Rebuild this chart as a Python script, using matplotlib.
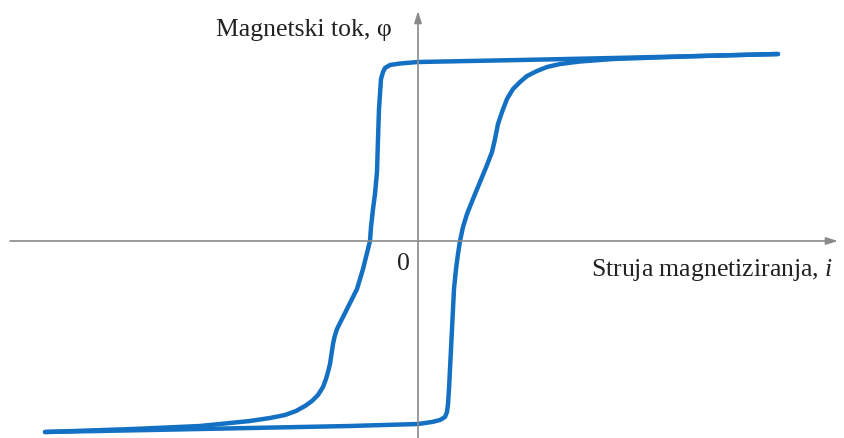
import numpy as np
import matplotlib.pyplot as plt

# Hysteresis loop (x: current i, y: flux phi), arbitrary units
# descending branch: from positive saturation to negative saturation
i_down = [3.60, 2.82, 1.95, 1.02, 0.00, -0.18, -0.28, -0.33, -0.35, -0.37, -0.38,
          -0.39, -0.40, -0.41, -0.43, -0.45, -0.47, -0.48, -0.52, -0.55, -0.61,
          -0.71, -0.76, -0.81, -0.835, -0.85, -0.865, -0.88, -0.90, -0.92, -0.95,
          -1.00, -1.06, -1.13, -1.22, -1.33, -1.48, -1.68, -2.18, -2.85, -3.73]
phi_down = [1.87, 1.85, 1.83, 1.81, 1.79, 1.775, 1.76, 1.73, 1.69, 1.62, 1.47,
            1.32, 1.02, 0.69, 0.47, 0.32, 0.14, 0.00, -0.16, -0.28, -0.48,
            -0.68, -0.78, -0.88, -0.96, -1.03, -1.13, -1.23, -1.31, -1.38, -1.46,
            -1.54, -1.60, -1.65, -1.70, -1.74, -1.77, -1.80, -1.85, -1.88, -1.91]

# ascending branch: from negative saturation back to positive saturation
i_up = [-3.73, -2.68, -1.68, -0.68, 0.00, 0.14, 0.22, 0.27, 0.29, 0.30, 0.31,
        0.32, 0.33, 0.34, 0.35, 0.36, 0.38, 0.40, 0.42, 0.45, 0.49, 0.55, 0.62,
        0.69, 0.74, 0.77, 0.80, 0.84, 0.89, 0.95, 1.02, 1.09, 1.19, 1.29, 1.42,
        1.62, 1.95, 2.82, 3.60]
phi_up = [-1.91, -1.89, -1.87, -1.85, -1.83, -1.81, -1.79, -1.76, -1.71, -1.63,
          -1.48, -1.28, -1.08, -0.88, -0.68, -0.48, -0.28, -0.13, 0.00, 0.14,
          0.27, 0.42, 0.59, 0.76, 0.89, 1.02, 1.17, 1.29, 1.42, 1.52, 1.59, 1.65,
          1.70, 1.74, 1.77, 1.795, 1.82, 1.85, 1.87]

loop_color = "#1470c2"

plt.rcParams["mathtext.fontset"] = "custom"
plt.rcParams["mathtext.it"] = "Liberation Serif:italic"
plt.rcParams["mathtext.rm"] = "Liberation Serif"

fig = plt.figure(figsize=(8.45, 4.39), dpi=100)
ax = fig.add_axes([0, 0, 1, 1])
ax.set_xlim(-4.18, 4.27)
ax.set_ylim(-1.97, 2.42)
ax.axis("off")

# axes with arrows
arrow = dict(arrowstyle="-|>,head_length=0.7,head_width=0.22",
             color="#8a8a8a", lw=1.2, shrinkA=0, shrinkB=0)
ax.annotate("", xy=(4.20, 0), xytext=(-4.08, 0), arrowprops=arrow)
ax.annotate("", xy=(0, 2.30), xytext=(0, -1.97), arrowprops=arrow)

ax.plot(i_down, phi_down, color=loop_color, lw=3.2, solid_joinstyle="round",
        solid_capstyle="round")
ax.plot(i_up, phi_up, color=loop_color, lw=3.2, solid_joinstyle="round",
        solid_capstyle="round")

serif = ["Liberation Serif", "DejaVu Serif"]
ax.text(-2.02, 2.06, "Magnetski tok, φ", family=serif, fontsize=18.5,
        ha="left", va="baseline", color="#222222")
ax.text(-0.15, -0.28, "0", family=serif, fontsize=18.5, ha="center",
        va="baseline", color="#222222")
ax.text(4.15, -0.345, "Struja magnetiziranja, $\\mathit{i}$", family=serif,
        fontsize=18.5, ha="right", va="baseline", color="#222222")

fig.savefig("out.png", dpi=100)
